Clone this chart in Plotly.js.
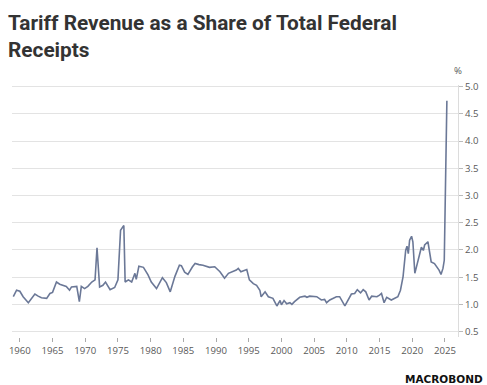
<!DOCTYPE html>
<html>
<head>
<meta charset="utf-8">
<script src="https://cdn.plot.ly/plotly-3.0.1.min.js"></script>
<style>html,body{margin:0;padding:0;background:#fff;}#chart{width:487px;height:385px;}</style>
</head>
<body>
<div id="chart"></div>
<script>
const years = [1959.0,1959.5,1960.0,1960.5,1961.3,1961.8,1962.3,1962.8,1963.3,1964.1,1964.6,1965.0,1965.6,1966.1,1967.1,1967.6,1967.9,1968.7,1969.1,1969.4,1969.9,1970.4,1971.0,1971.5,1971.8,1972.2,1972.7,1973.1,1973.8,1974.5,1975.0,1975.4,1975.9,1976.1,1976.6,1977.1,1977.6,1977.8,1978.2,1978.9,1979.6,1980.1,1980.9,1981.8,1982.4,1983.0,1983.7,1984.4,1984.7,1985.2,1985.7,1986.4,1986.8,1987.4,1988.0,1989.0,1989.8,1990.6,1991.3,1991.9,1992.6,1993.1,1993.4,1993.8,1994.7,1995.1,1995.7,1996.2,1996.7,1996.9,1997.5,1998.0,1998.7,1999.3,1999.8,2000.0,2000.4,2000.8,2001.3,2001.6,2002.0,2002.8,2003.6,2003.9,2004.3,2005.4,2006.1,2006.6,2006.9,2007.4,2008.4,2008.9,2009.7,2010.2,2010.7,2011.2,2011.6,2012.1,2012.5,2012.9,2013.4,2013.8,2014.6,2015.0,2015.3,2015.7,2016.1,2016.8,2017.3,2017.8,2018.2,2018.6,2019.0,2019.2,2019.4,2019.6,2019.9,2020.1,2020.4,2020.9,2021.4,2021.7,2021.9,2022.4,2022.9,2023.4,2023.9,2024.1,2024.4,2024.7,2024.9,2025.3];
const shares = [1.14,1.26,1.24,1.14,1.03,1.11,1.19,1.15,1.12,1.11,1.20,1.22,1.41,1.37,1.33,1.26,1.32,1.33,1.05,1.33,1.29,1.33,1.41,1.45,2.04,1.32,1.35,1.41,1.27,1.31,1.45,2.36,2.45,1.41,1.45,1.41,1.57,1.46,1.70,1.68,1.54,1.41,1.29,1.49,1.40,1.23,1.51,1.72,1.71,1.59,1.55,1.69,1.75,1.73,1.72,1.68,1.69,1.60,1.48,1.57,1.60,1.63,1.66,1.60,1.64,1.45,1.38,1.35,1.26,1.14,1.23,1.14,1.11,0.97,1.07,0.99,1.07,1.01,1.03,1.00,1.05,1.13,1.15,1.13,1.15,1.14,1.08,1.09,1.03,1.08,1.14,1.14,0.97,1.08,1.19,1.20,1.27,1.21,1.27,1.23,1.08,1.15,1.14,1.17,1.20,1.03,1.13,1.08,1.11,1.14,1.26,1.51,1.99,2.07,1.93,2.18,2.25,2.15,1.57,1.84,2.05,1.99,2.09,2.15,1.78,1.75,1.66,1.63,1.55,1.66,1.81,4.74];
const xTicks = [1960,1965,1970,1975,1980,1985,1990,1995,2000,2005,2010,2015,2020,2025];
const yTicks = [0.5,1.0,1.5,2.0,2.5,3.0,3.5,4.0,4.5,5.0];
const titleText = "Tariff Revenue as a Share of Total Federal<br>Receipts";
const unitLabel = "%";
const sourceLabel = "MACROBOND";

const plotTop = 85, plotH = 252;
const data = [{
  x: years, y: shares, type: "scatter", mode: "lines",
  line: {color: "#6b7897", width: 1.6},
  hoverinfo: "skip"
}];
const layout = {
  width: 487, height: 385,
  margin: {l: 12, r: 29, t: plotTop, b: 385 - plotTop - plotH},
  paper_bgcolor: "#fff", plot_bgcolor: "#fff",
  showlegend: false,
  xaxis: {
    range: [1958.8, 2027.0],
    tickvals: xTicks, ticktext: xTicks.map(String),
    showgrid: false, zeroline: false, showline: false,
    ticks: "outside", ticklen: 4, tickcolor: "#aaa",
    tickfont: {family: "Open Sans, sans-serif", size: 9.6, color: "#595959"}
  },
  yaxis: {
    side: "right", range: [0.4, 5.03],
    tickvals: yTicks, ticktext: yTicks.map(v => v.toFixed(1)),
    showgrid: true, gridcolor: "#e3e3e3", gridwidth: 1,
    zeroline: false, showline: true, linecolor: "#dcdcdc",
    ticks: "outside", ticklen: 4, tickcolor: "#bbb",
    tickfont: {family: "Open Sans, sans-serif", size: 9.6, color: "#595959"}
  },
  annotations: [
    {text: titleText, xref: "paper", yref: "paper", x: -5/446, y: 1 + (plotTop - 10)/plotH, xanchor: "left", yanchor: "top", align: "left", showarrow: false, borderpad: 0,
     font: {family: "Roboto, sans-serif", size: 20.8, color: "#333333", weight: 700}},
    {text: unitLabel, xref: "paper", yref: "paper", x: 1.0, y: 1.0, xanchor: "center", yanchor: "bottom", yshift: 6, showarrow: false, font: {family: "Open Sans, sans-serif", size: 9.6, color: "#595959"}},
    {text: sourceLabel, xref: "paper", yref: "paper", x: 1.06, y: 0, xanchor: "right", yanchor: "top", yshift: -34, showarrow: false, font: {family: "DejaVu Sans, sans-serif", size: 10.5, color: "#111", weight: 900}}
  ]
};
Plotly.newPlot("chart", data, layout, {staticPlot: true, displayModeBar: false});
</script>
</body>
</html>
